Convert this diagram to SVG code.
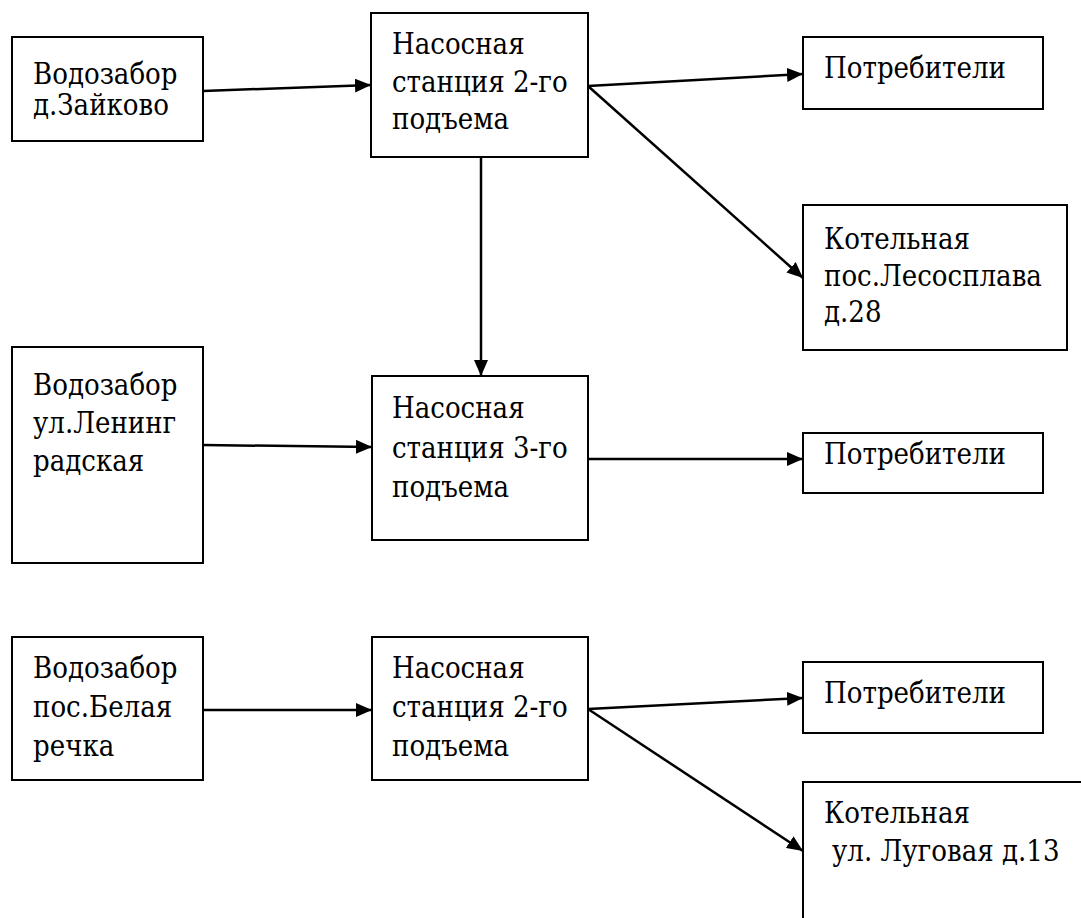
<svg xmlns="http://www.w3.org/2000/svg" width="1081" height="918" viewBox="0 0 1081 918">
<style>
.box{fill:#fff;stroke:#000;stroke-width:2}
.t{font-family:"DejaVu Serif Condensed","DejaVu Serif","Liberation Serif",serif;font-stretch:condensed;font-size:29px;fill:#000}
.c{stroke:#000;stroke-width:2.5;fill:none;marker-end:url(#ah)}
</style>
<defs>
<marker id="ah" markerUnits="userSpaceOnUse" markerWidth="18" markerHeight="14" refX="16" refY="7" orient="auto">
<path d="M0,0 L16,7 L0,14 Z" fill="#000"/>
</marker>
</defs>
<rect width="1081" height="918" fill="#fff"/>
<g id="connectors">
<line class="c" x1="203" y1="91" x2="371" y2="85"/>
<line class="c" x1="588" y1="86" x2="803" y2="74"/>
<line class="c" x1="588" y1="86" x2="803" y2="278"/>
<line class="c" x1="481" y1="157" x2="481" y2="376"/>
<line class="c" x1="203" y1="445" x2="372" y2="447"/>
<line class="c" x1="588" y1="459" x2="803" y2="459"/>
<line class="c" x1="203" y1="710" x2="372" y2="710"/>
<line class="c" x1="588" y1="709" x2="803" y2="698"/>
<line class="c" x1="588" y1="709" x2="803" y2="851"/>
</g>
<g id="n1"><rect class="box" x="12" y="37" width="191" height="104"/>
<text class="t" x="33" y="84">Водозабор</text><text class="t" x="33" y="115">д.Зайково</text></g>
<g id="n2"><rect class="box" x="371" y="13" width="217" height="144"/>
<text class="t" x="392" y="54">Насосная</text><text class="t" x="392" y="92">станция 2-го</text><text class="t" x="392" y="129">подъема</text></g>
<g id="n3"><rect class="box" x="803" y="37" width="240" height="72"/>
<text class="t" x="824" y="78">Потребители</text></g>
<g id="n4"><rect class="box" x="803" y="205" width="264" height="145"/>
<text class="t" x="824" y="249">Котельная</text><text class="t" x="824" y="286">пос.Лесосплава</text><text class="t" x="824" y="322">д.28</text></g>
<g id="n5"><rect class="box" x="12" y="347" width="191" height="216"/>
<text class="t" x="33" y="395">Водозабор</text><text class="t" x="33" y="433">ул.Ленинг</text><text class="t" x="33" y="471">радская</text></g>
<g id="n6"><rect class="box" x="372" y="376" width="216" height="164"/>
<text class="t" x="392" y="418">Насосная</text><text class="t" x="392" y="458">станция 3-го</text><text class="t" x="392" y="497">подъема</text></g>
<g id="n7"><rect class="box" x="803" y="433" width="240" height="60"/>
<text class="t" x="824" y="464">Потребители</text></g>
<g id="n8"><rect class="box" x="12" y="637" width="191" height="143"/>
<text class="t" x="33" y="678">Водозабор</text><text class="t" x="33" y="717">пос.Белая</text><text class="t" x="33" y="756">речка</text></g>
<g id="n9"><rect class="box" x="372" y="637" width="216" height="143"/>
<text class="t" x="392" y="678">Насосная</text><text class="t" x="392" y="717">станция 2-го</text><text class="t" x="392" y="756">подъема</text></g>
<g id="n10"><rect class="box" x="803" y="662" width="240" height="71"/>
<text class="t" x="824" y="703">Потребители</text></g>
<g id="n11"><rect class="box" x="803" y="782" width="300" height="200"/>
<text class="t" x="824" y="823">Котельная</text><text class="t" x="832" y="861">ул. Луговая д.13</text></g>
</svg>
